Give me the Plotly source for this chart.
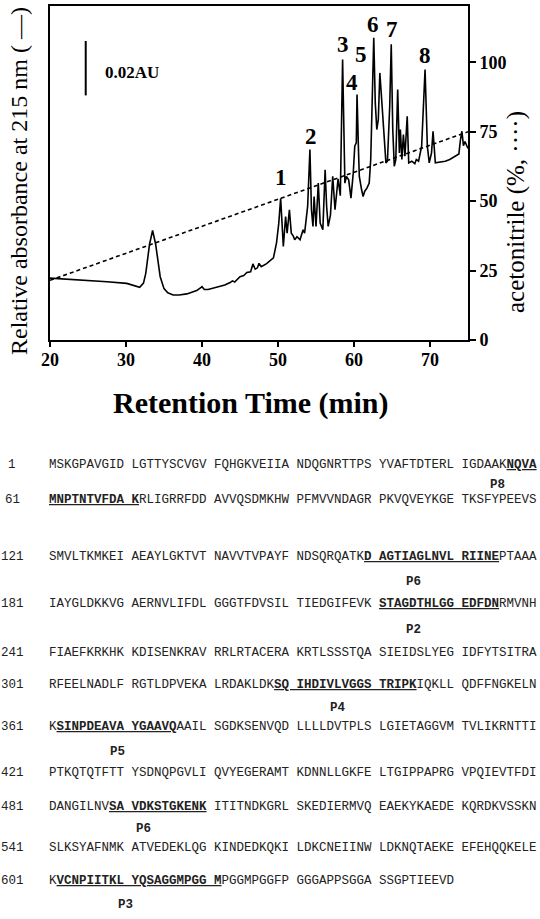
import plotly.graph_objects as go

W, H = 540, 919

# ---------------- chromatogram data ----------------
time_min = [20.0, 22.0, 25.0, 27.5, 30.1, 31.0, 31.8, 32.3, 32.6, 33.1, 33.5, 33.9, 34.2, 34.5, 35.0,
            35.5, 36.2, 37.0, 38.0, 39.3, 39.8, 40.0, 40.3, 40.8, 41.9, 43.0, 43.7, 44.0, 44.3, 45.0,
            45.5, 45.9, 46.4, 46.7, 47.0, 47.3, 47.5, 47.8, 48.5, 49.0, 49.4, 49.8, 50.1, 50.35, 50.55,
            50.7, 51.0, 51.2, 51.5, 51.75, 52.0, 52.2, 52.5, 52.9, 53.3, 53.5, 53.9, 54.2, 54.4, 54.6,
            54.75, 55.0, 55.3, 55.55, 55.9, 56.2, 56.4, 56.6, 56.9, 57.2, 57.5, 57.7, 57.9, 58.2, 58.5,
            58.8, 59.0, 59.3, 59.6, 59.9, 60.1, 60.3, 60.4, 60.6, 60.7, 61.0, 61.2, 61.4, 61.7, 62.0,
            62.2, 62.3, 62.6, 62.8, 63.0, 63.2, 63.4, 63.7, 63.95, 64.2, 64.4, 64.7, 64.9, 65.1, 65.3,
            65.5, 65.75, 65.97, 66.1, 66.3, 66.5, 66.7, 67.0, 67.2, 67.6, 68.0, 68.2, 68.5, 68.9, 69.35,
            69.65, 69.9, 70.2, 70.4, 70.7, 71.1, 72.0, 72.6, 73.3, 73.8, 74.0, 74.2, 74.4, 74.6, 75.0]
absorbance_rel = [22.3, 22.0, 21.4, 21.0, 20.4, 19.8, 19.0, 20.5, 24.0, 34.5, 39.5, 34.5, 28.0, 22.8, 18.5,
                  17.0, 16.2, 16.2, 16.6, 17.8, 18.8, 19.2, 18.2, 18.2, 19.0, 19.8, 20.7, 21.3, 20.9, 22.8,
                  23.2, 24.3, 24.6, 27.4, 25.5, 26.0, 27.6, 26.4, 27.5, 28.5, 29.6, 34.9, 42.0, 51.0, 39.7,
                  33.7, 44.5, 38.5, 46.9, 38.5, 37.5, 36.1, 37.2, 36.1, 39.7, 38.5, 48.1, 68.6, 46.9, 40.9,
                  51.7, 40.9, 56.5, 42.1, 39.7, 61.3, 48.1, 40.9, 45.0, 59.0, 46.9, 54.1, 58.0, 52.0, 101.0,
                  56.5, 58.9, 57.7, 51.1, 60.1, 69.8, 71.0, 88.4, 67.4, 58.9, 54.1, 51.7, 53.5, 54.7, 56.5,
                  65.0, 75.8, 108.9, 85.4, 75.8, 79.4, 96.2, 84.2, 72.2, 63.8, 64.4, 84.2, 106.5, 75.8, 62.6,
                  65.0, 90.2, 67.4, 75.8, 65.0, 74.0, 66.2, 80.6, 63.8, 64.4, 63.5, 65.0, 64.4, 69.8, 97.4,
                  69.8, 63.8, 67.4, 75.2, 63.8, 64.0, 64.4, 65.0, 66.0, 67.0, 72.0, 75.2, 70.0, 71.5, 69.0]

gradient_time = [20, 75]
acetonitrile_pct = [21.5, 75]

acn_ticks = [0, 25, 50, 75, 100]
time_ticks = [20, 30, 40, 50, 60, 70]

peak_labels = ["1", "2", "3", "4", "5", "6", "7", "8"]
peak_label_time = [50.35, 54.3, 58.6, 59.7, 60.9, 62.5, 65.0, 69.35]
peak_label_level = [58.4, 73.4, 106.5, 92.6, 102.9, 113.7, 111.9, 102.3]

# ---------------- sequence data ----------------
seq_numbers = [1, 61, 121, 181, 241, 301, 361, 421, 481, 541, 601]
seq_rows = [
    "MSKGPAVGID LGTTYSCVGV FQHGKVEIIA NDQGNRTTPS YVAFTDTERL IGDAAK[NQVA]",
    "[MNPTNTVFDA K]RLIGRRFDD AVVQSDMKHW PFMVVNDAGR PKVQVEYKGE TKSFYPEEVS",
    "SMVLTKMKEI AEAYLGKTVT NAVVTVPAYF NDSQRQATK[D AGTIAGLNVL RIINE]PTAAA",
    "IAYGLDKKVG AERNVLIFDL GGGTFDVSIL TIEDGIFEVK [STAGDTHLGG EDFDN]RMVNH",
    "FIAEFKRKHK KDISENKRAV RRLRTACERA KRTLSSSTQA SIEIDSLYEG IDFYTSITRA",
    "RFEELNADLF RGTLDPVEKA LRDAKLDK[SQ IHDIVLVGGS TRIPK]IQKLL QDFFNGKELN",
    "K[SINPDEAVA YGAAVQ]AAIL SGDKSENVQD LLLLDVTPLS LGIETAGGVM TVLIKRNTTI",
    "PTKQTQTFTT YSDNQPGVLI QVYEGERAMT KDNNLLGKFE LTGIPPAPRG VPQIEVTFDI",
    "DANGILNV[SA VDKSTGKENK] ITITNDKGRL SKEDIERMVQ EAEKYKAEDE KQRDKVSSKN",
    "SLKSYAFNMK ATVEDEKLQG KINDEDKQKI LDKCNEIINW LDKNQTAEKE EFEHQQKELE",
    "K[VCNPIITKL YQSAGGMPGG M]PGGMPGGFP GGGAPPSGGA SSGPTIEEVD",
]
peptide_names = ["P8", "P6", "P2", "P4", "P5", "P6", "P3"]
peptide_row = [0, 2, 3, 5, 6, 8, 10]
peptide_x_px = [497, 413, 413, 338, 117, 143, 125]

# layout positions (pixels, from top-left of the picture)
row_y_px = [465, 500, 557, 604, 653, 685, 727, 773, 807, 848, 881]
label_y_px = {0: 485, 2: 582, 3: 630, 5: 708, 6: 752, 8: 829, 10: 905}

SERIF = "Liberation Serif"
MONO = "Liberation Mono"


def px(x):
    return x / W


def py(y):
    return 1 - y / H


fig = go.Figure()
fig.add_trace(go.Scatter(x=time_min, y=absorbance_rel, mode="lines",
                         line=dict(color="black", width=1.6), yaxis="y", showlegend=False))
fig.add_trace(go.Scatter(x=gradient_time, y=acetonitrile_pct, mode="lines",
                         line=dict(color="black", width=1.6, dash="4px,3px"), yaxis="y2",
                         showlegend=False))

ydom = [py(340), py(6)]
yrange = [0, 120.3]
fig.update_layout(
    template="none",
    width=W, height=H, margin=dict(l=0, r=0, t=0, b=0, autoexpand=False),
    paper_bgcolor="white", plot_bgcolor="white", showlegend=False,
    xaxis=dict(domain=[px(50), px(468)], range=[20, 75], tickvals=time_ticks,
               ticks="outside", ticklen=5, tickwidth=1.5, tickcolor="black",
               showline=True, linecolor="black", linewidth=1.8, mirror=True,
               showgrid=False, zeroline=False, automargin=False, ticklabelstandoff=-3,
               tickfont=dict(family=SERIF, size=18, color="black", weight="bold")),
    yaxis=dict(domain=ydom, range=yrange, showticklabels=False, ticks="",
               showline=True, linecolor="black", linewidth=1.8,
               showgrid=False, zeroline=False, automargin=False),
    yaxis2=dict(overlaying="y", side="right", range=yrange, tickvals=acn_ticks,
                ticks="outside", ticklen=6, tickwidth=1.5, tickcolor="black",
                showline=True, linecolor="black", linewidth=1.8,
                showgrid=False, zeroline=False, automargin=False,
                tickfont=dict(family=SERIF, size=18, color="black", weight="bold")),
)

ann = []


def add_text(x, y, text, font, xref="paper", yref="paper", xanchor="center", angle=0):
    ann.append(dict(x=x, y=y, xref=xref, yref=yref, text=text, showarrow=False,
                    xanchor=xanchor, yanchor="middle", textangle=angle, font=font))


# peak labels
for lab, t, lv in zip(peak_labels, peak_label_time, peak_label_level):
    add_text(t, lv, "<b>" + lab + "</b>", dict(family=SERIF, size=23, color="black"), xref="x", yref="y")
# scale bar
fig.add_shape(type="line", xref="x", yref="y", x0=24.7, x1=24.7, y0=88.1, y1=107.7,
              line=dict(color="black", width=2))
add_text(27.0, 96.3, "<b>0.02AU</b>", dict(family=SERIF, size=17, color="black"),
         xref="x", yref="y", xanchor="left")
# axis titles
add_text(px(19), py(181), "Relative absorbance at 215 nm ( \u2014)",
         dict(family=SERIF, size=24, color="black"), angle=-90)
add_text(px(516), py(212), "acetonitrile (%, \u00b7\u00b7\u00b7\u00b7)",
         dict(family=SERIF, size=25, color="black"), angle=-90)
add_text(px(251), py(403), "<b>Retention Time (min)</b>", dict(family=SERIF, size=30, color="black"))

# sequence
seq_font = dict(family=MONO, size=12.5, color="#222")
for i, (n, row) in enumerate(zip(seq_numbers, seq_rows)):
    html = row.replace("[", "<u><b>").replace("]", "</b></u>")
    add_text(px(12), py(row_y_px[i]), str(n), seq_font)
    add_text(px(47), py(row_y_px[i]), html, seq_font, xanchor="left")
for name, r, xp in zip(peptide_names, peptide_row, peptide_x_px):
    add_text(px(xp), py(label_y_px[r]), "<b>" + name + "</b>", seq_font)

fig.update_layout(annotations=ann)
fig.write_html("out.html", config={"displayModeBar": False},
               post_script="document.body.style.margin = '0px';")
